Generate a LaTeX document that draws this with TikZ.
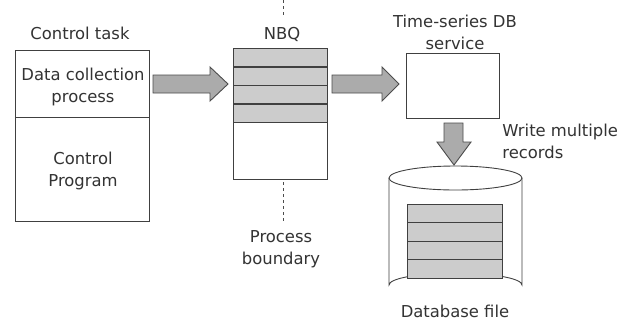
\documentclass[tikz,border=0pt]{standalone}
\usepackage{fontspec}
\setmainfont{DejaVu Sans}
\begin{document}
\begin{tikzpicture}[x=1pt,y=-1pt,
  line width=0.9pt,
  box/.style={draw=black!75, fill=white},
  stripe/.style={draw=black!75, fill=black!20},
  blockarrow/.style={draw=black!70, fill=black!33, line width=0.9pt, line join=miter},
  lbl/.style={font=\fontsize{16.4}{22}\selectfont, text=black!80, align=center, inner sep=0pt},
  boundary/.style={draw=black!70, dashed, line width=0.8pt}
]
\useasboundingbox[fill=white] (0,0) rectangle (631,322);

% Control task
\node[lbl] (ct) at (80,33) {Control task};
\draw[box] (15,50) rectangle (149,221);
\draw[draw=black!75] (15,117) -- (149,117);
\node[lbl] (dcp) at (83,87) {Data collection\\process};
\node[lbl] (cp) at (83,171) {Control\\Program};

% arrow 1
\draw[blockarrow] (153,75) -- (210,75) -- (210,67) -- (228,84) -- (210,101) -- (210,93) -- (153,93) -- cycle;

% NBQ
\node[lbl] (nbq) at (282,34) {NBQ};
\foreach \y in {48,67,85,104} {
  \draw[stripe] (233,\y) rectangle (327,\y+18.5);
}
\draw[box] (233,122) rectangle (327,179);
\draw[draw=black!75] (233,48) rectangle (327,179);

% process boundary
\coordinate (bt1) at (283,0);
\coordinate (bt2) at (283,18);
\coordinate (bb1) at (283,182);
\coordinate (bb2) at (283,222);
\draw[boundary] (bt1) -- (bt2);
\draw[boundary] (bb1) -- (bb2);
\node[lbl] (pb) at (281,249) {Process\\boundary};

% arrow 2
\draw[blockarrow] (332,75) -- (382,75) -- (382,67) -- (399,84) -- (382,101) -- (382,93) -- (332,93) -- cycle;

% Time-series DB service
\node[lbl] (ts) at (455,32) {Time-series DB\\service};
\draw[box] (406,53) rectangle (499,118);

% down arrow
\draw[blockarrow] (444,123) -- (463,123) -- (463,142) -- (471,142) -- (454,165) -- (437,142) -- (444,142) -- cycle;
\node[lbl, anchor=west, align=left] (wm) at (502,141) {Write multiple\\records};

% cylinder
\draw[draw=black!75, fill=white] (389,178) -- (389,285) arc[start angle=180, end angle=360, x radius=66.5, y radius=12] -- (522,178);
\draw[draw=black!75, fill=white] (455.5,178) ellipse[x radius=66.5, y radius=12];
\foreach \y in {204,222.5,241,259.5} {
  \draw[stripe] (407,\y) rectangle (502,\y+18.5);
}
\node[lbl] (dbf) at (455,311) {Database file};
\end{tikzpicture}
\end{document}
